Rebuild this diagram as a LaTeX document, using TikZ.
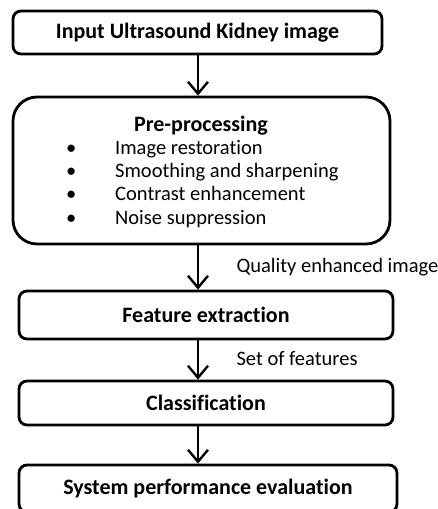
\documentclass[tikz,border=0pt]{standalone}
\usepackage{fontspec}
\setmainfont{Carlito}[Ligatures=NoCommon]
\usetikzlibrary{arrows.meta}
\begin{document}
\begin{tikzpicture}[x=1pt, y=-1pt, stage/.style={draw, line width=2.8pt, rounded corners=8pt, font=\fontsize{22}{24}\selectfont\bfseries}, arr/.style={line width=2.8pt, -{Straight Barb[length=12pt, width=20pt, line width=2.4pt]}}, note/.style={anchor=west, font=\fontsize{20.5}{22}\selectfont}]
	\useasboundingbox[fill=white] (0,0) rectangle (438,509);
	\coordinate (col) at (198,0);
	\node[stage, minimum width=369pt, minimum height=43pt] (inp) at (197.5,32.5) {Input Ultrasound Kidney image};
	\node[stage, rounded corners=24pt, minimum width=377pt, minimum height=147pt] (pre) at (201.5,170.5) {};
	\node[font=\fontsize{22}{24}\selectfont\bfseries] (prehead) at (201,126) {Pre-processing};
	\node[anchor=north west, align=left, inner sep=0pt, font=\fontsize{20.5}{23.3}\selectfont] (prelist) at (66,140) {\makebox[49pt][l]{\textbullet}Image restoration\\ \makebox[49pt][l]{\textbullet}Smoothing and sharpening\\ \makebox[49pt][l]{\textbullet}Contrast enhancement\\ \makebox[49pt][l]{\textbullet}Noise suppression};
	\node[stage, minimum width=374pt, minimum height=48pt] (feat) at (206,315) {Feature extraction};
	\node[stage, minimum width=374pt, minimum height=44pt] (cls) at (206,403) {Classification};
	\node[stage, minimum width=378pt, minimum height=47pt] (eval) at (208,488.5) {System performance evaluation};
	\draw[arr] (inp.south -| col) -- (pre.north -| col);
	\draw[arr] (pre.south -| col) -- (feat.north -| col);
	\draw[arr] (feat.south -| col) -- (cls.north -| col);
	\draw[arr] (cls.south -| col) -- (eval.north -| col);
	\node[note] (q) at (233,267) {Quality enhanced image};
	\node[note] (s) at (233,359) {Set of features};
\end{tikzpicture}
\end{document}
